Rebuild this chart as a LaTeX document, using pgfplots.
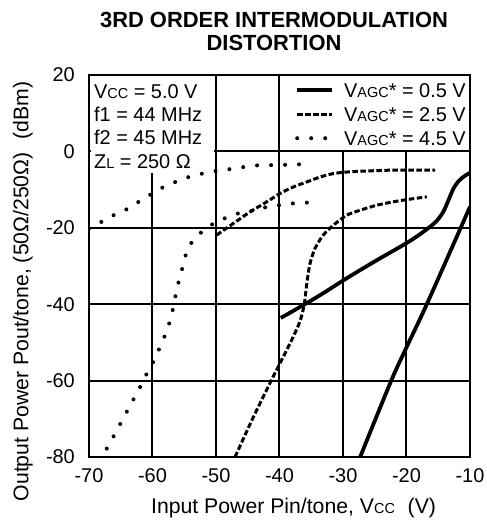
\documentclass[border=0pt]{standalone}
\usepackage{fontspec}
\setmainfont{Liberation Sans}
\usepackage{pgfplots}
\pgfplotsset{compat=1.18}

% smaller capitals used in V_CC, V_AGC, Z_L
\newcommand{\sm}[1]{{\fontsize{14.5}{14.5}\selectfont #1}}

\begin{document}
\begin{tikzpicture}
\begin{axis}[
    scale only axis,
    width=381bp, height=382bp,
    xmin=-70, xmax=-10, ymin=-80, ymax=20,
    xtick={-70,-60,...,-10},
    ytick={-80,-60,...,20},
    xticklabels={-70,-60,-50,-40,-30,-20,-10},
    yticklabels={-80,-60,-40,-20,0,20},
    xmajorgrids, ymajorgrids,
    major grid style={draw=black, line width=2bp},
    axis line style={black, line width=1.8bp},
    major tick length=0pt,
    ticklabel style={font=\fontsize{20}{20}\selectfont},
    xticklabel style={anchor=base, yshift=-25bp},
    yticklabel style={anchor=east, inner sep=0pt, xshift=-14bp},
    title={3RD ORDER INTERMODULATION\\DISTORTION},
    title style={at={(axis description cs:0.4856,1.098)}, anchor=center,
        align=center, font=\bfseries\fontsize{22}{23.5}\selectfont},
    xlabel={Input Power Pin/tone, V\sm{CC}\hspace{0.6em}(V)},
    xlabel style={at={(axis description cs:0.537,-0.1466)}, anchor=base,
        font=\fontsize{21.3}{21.3}\selectfont},
    ylabel={Output Power Pout/tone, (50Ω/250Ω)\hspace{0.6em}(dBm)},
    ylabel style={at={(axis description cs:-0.1588,0.4332)}, anchor=base,
        font=\fontsize{21.3}{21.3}\selectfont},
    legend style={draw=none, fill=none, at={(axis description cs:0.5407,0.9797)},
        anchor=north west, inner sep=0pt, row sep=9.5bp, column sep=10bp,
        font=\fontsize{20}{20}\selectfont,
        nodes={inner sep=0pt, text height=14.5bp, text depth=0bp}},
    legend cell align=left,
    legend image code/.code={\draw[#1] (0bp,0bp) -- (35bp,0bp);},
    solid5/.style={black, line width=3.8bp, smooth, tension=0.5},
    dash25/.style={black, line width=3bp, dash pattern=on 5.5bp off 2.5bp, smooth, tension=0.5},
    dot45/.style={black, line width=4bp, line cap=round, dash pattern=on 0bp off 14bp, smooth, tension=0.5},
]
\coordinate (bl) at (rel axis cs:0,0);
\coordinate (tr) at (rel axis cs:1,1);

% white boxes behind the notes and the legend
\fill[white] (axis cs:-69.75,19.75) rectangle (axis cs:-50.3,-5.6);
\fill[white] (axis cs:-39.7,19.75) rectangle (axis cs:-10.25,0.35);

\addplot[solid5] coordinates {
    (-39.8,-43.6) (-36.0,-40.0) (-33.0,-37.0) (-29.7,-33.5) (-25.0,-28.8)
    (-19.7,-23.7) (-16.8,-20.4) (-15.25,-18.2) (-14.2,-15.8) (-13.4,-12.8)
    (-12.6,-9.7) (-11.8,-7.8) (-10.9,-6.5) (-10.0,-5.6)
};
\addlegendentry{V\sm{AGC}* = 0.5 V}

\addplot[dash25] coordinates {
    (-47.0,-80.0) (-44.1,-69.5) (-41.0,-59.0) (-38.35,-50.3) (-36.8,-44.6)
    (-36.1,-40.0) (-35.7,-34.6) (-35.2,-29.4) (-34.4,-25.4) (-33.1,-21.9)
    (-31.5,-19.3) (-29.4,-16.7) (-27.3,-15.4) (-24.7,-14.1) (-22.1,-13.2)
    (-19.45,-12.5) (-16.8,-11.9)
};
\addlegendentry{V\sm{AGC}* = 2.5 V}

\addplot[dot45] coordinates {
    (-70.0,-20.2) (-68.0,-18.4) (-66.0,-16.6) (-63.9,-15.0) (-62.0,-13.0)
    (-60.0,-11.0) (-58.0,-9.1) (-55.9,-7.7) (-53.7,-6.4) (-51.5,-5.6)
    (-49.2,-4.9) (-47.0,-4.5) (-44.6,-3.8) (-42.4,-3.6) (-40.1,-3.6)
    (-37.8,-3.4) (-35.5,-3.4)
};
\addlegendentry{V\sm{AGC}* = 4.5 V}

\addplot[solid5, forget plot] coordinates {
    (-27.3,-80.0) (-22.4,-60.0) (-20.0,-51.3) (-16.8,-40.0) (-10.0,-14.5)
};

\addplot[dash25, forget plot] coordinates {
    (-49.9,-21.9) (-47.3,-18.9) (-44.6,-15.8) (-42.0,-13.2) (-39.9,-11.0)
    (-37.8,-9.3) (-35.7,-8.0) (-33.6,-6.7) (-31.5,-5.8) (-29.4,-5.4)
    (-27.3,-5.2) (-22.1,-4.9) (-15.5,-4.9)
};

\addplot[dot45, forget plot] coordinates {
    (-67.2,-77.8) (-66.1,-74.5) (-65.0,-71.1) (-63.9,-67.7) (-62.8,-64.3)
    (-61.7,-60.9) (-60.7,-57.5) (-59.6,-54.2) (-58.7,-50.7) (-57.8,-47.2)
    (-57.1,-43.5) (-56.6,-39.8) (-56.2,-36.2) (-55.6,-32.4) (-55.0,-28.7)
    (-54.4,-25.2) (-52.9,-22.1) (-51.1,-19.6) (-49.0,-17.8) (-46.9,-16.4)
    (-44.5,-15.6) (-42.4,-14.7) (-40.1,-14.1) (-37.8,-13.6) (-35.5,-13.4)
};

\node[anchor=north west, align=left, inner sep=0pt,
      font=\fontsize{20}{23.5}\selectfont]
    at (axis description cs:0.013,0.9764)
    {V\sm{CC} = 5.0 V\\f1 = 44 MHz\\f2 = 45 MHz\\Z\sm{L} = 250 Ω};
\end{axis}
\pgfresetboundingbox
\path ([xshift=-89bp,yshift=-65bp]bl) rectangle ([xshift=17bp,yshift=75bp]tr);
\end{tikzpicture}
\end{document}
